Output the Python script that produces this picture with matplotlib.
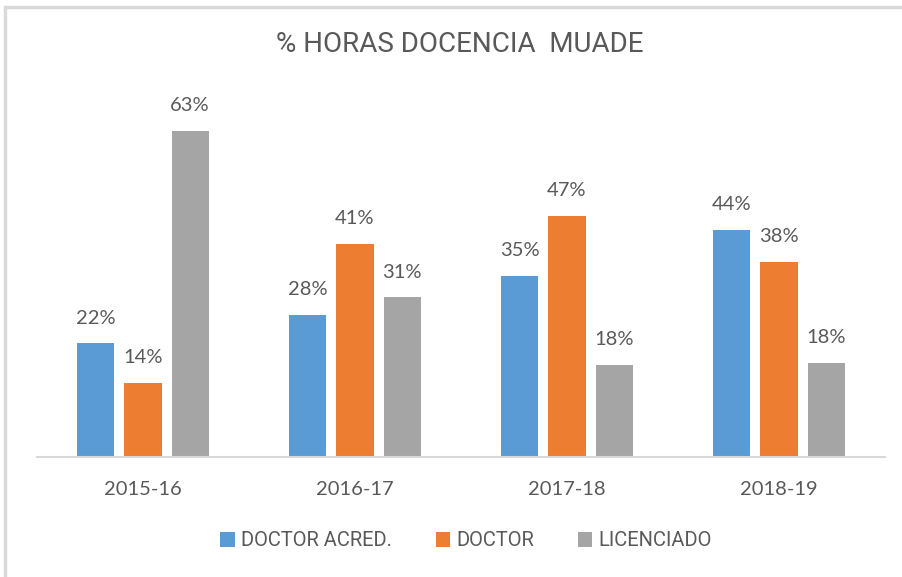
import matplotlib
matplotlib.use("Agg")
import matplotlib.pyplot as plt
import numpy as np
from matplotlib.patches import Rectangle

categories = ["2015-16", "2016-17", "2017-18", "2018-19"]
series_names = ["DOCTOR ACRED.", "DOCTOR", "LICENCIADO"]
doctor_acred = [22.0, 27.5, 35.0, 43.9]
doctor = [14.3, 41.2, 46.6, 37.7]
licenciado = [63.1, 30.9, 17.8, 18.2]
colors = ["#5B9BD5", "#ED7D31", "#A5A5A5"]

text_color = "#595959"
num_font = ["Lato", "DejaVu Sans"]
narrow_font = ["Roboto", "DejaVu Sans"]

fig = plt.figure(figsize=(9.02, 5.77), dpi=100)
fig.patch.set_facecolor("white")

# chart border (left and top visible)
fig.add_artist(Rectangle((5/902, -0.05), 1.2, 1 - 7/577 + 0.05, transform=fig.transFigure,
                         fill=False, edgecolor="#D9D9D9", linewidth=2.5))

ax = fig.add_axes([37/902, 1 - 457/577, (885-37)/902, (457-95)/577])
x = np.arange(len(categories))
width = 0.175
step = 0.222
all_series = [doctor_acred, doctor, licenciado]
for i, (vals, name, c) in enumerate(zip(all_series, series_names, colors)):
    pos = x + (i - 1) * step
    bars = ax.bar(pos, vals, width=width, color=c, label=name, zorder=2)
    for b, v in zip(bars, vals):
        ax.annotate(f"{round(v)}%", (b.get_x() + b.get_width()/2, v),
                    xytext=(0, 12), textcoords="offset points",
                    ha="center", va="bottom", fontsize=14.5, color=text_color,
                    family=num_font)

ax.set_xlim(-0.5, 3.5)
ax.set_ylim(0, 70)
ax.set_yticks([])
for s in ["top", "right", "left"]:
    ax.spines[s].set_visible(False)
ax.spines["bottom"].set_color("#D9D9D9")
ax.spines["bottom"].set_linewidth(1.5)
ax.set_xticks(x)
ax.set_xticklabels(categories, fontsize=14.5, color=text_color, family=num_font)
ax.tick_params(axis="x", length=0, pad=17)
ax.set_facecolor("none")

fig.text(460/902, 1 - 45/577, "% HORAS DOCENCIA  MUADE", ha="center", va="center",
         fontsize=20, color=text_color, family=narrow_font)

leg = fig.legend(loc="center", bbox_to_anchor=(466/902, 1 - 541/577), ncol=3,
                 frameon=False, handlelength=0.7, handleheight=0.7,
                 handletextpad=0.3, columnspacing=2.2,
                 prop={"family": narrow_font, "size": 14.5})
for t in leg.get_texts():
    t.set_color(text_color)

fig.savefig("out.png", dpi=100)
